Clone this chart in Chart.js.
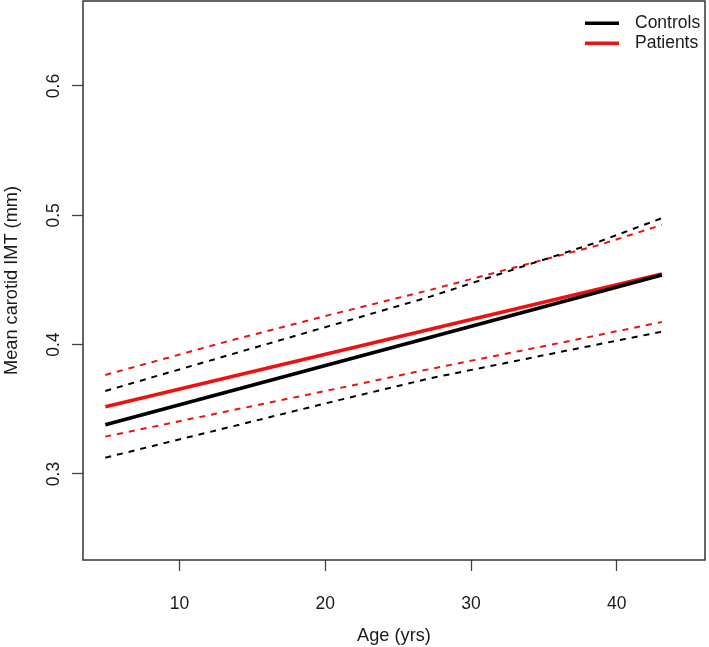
<!DOCTYPE html>
<html>
<head>
<meta charset="utf-8">
<script src="https://cdn.jsdelivr.net/npm/chart.js@4.4.0/dist/chart.umd.min.js"></script>
<style>
html,body{margin:0;padding:0;background:#fff;}
#wrap{width:709px;height:647px;position:relative;}
</style>
</head>
<body>
<div id="wrap"><canvas id="c" width="709" height="647"></canvas></div>
<script>
// ---- data ----
const fitAges = [4.9, 43.1];
const controlsFit = [0.338, 0.4538];
const patientsFit = [0.352, 0.4546];
const upperAges = [4.9, 13.4, 20.3, 27.2, 38.8, 43.1];
const controlsUpper = [0.3642, 0.392, 0.4145, 0.4371, 0.4797, 0.4978];
const patientsUpper = [0.3766, 0.4029, 0.423, 0.4423, 0.4771, 0.4926];
const lowerAges = [4.9, 21.0, 27.2, 36.8, 43.1];
const controlsLower = [0.3126, 0.3573, 0.374, 0.3959, 0.410];
const patientsLower = [0.3289, 0.3665, 0.3812, 0.4029, 0.4175];
const xTicks = [10, 20, 30, 40];
const yTicks = [0.3, 0.4, 0.5, 0.6];
const legendLabels = ['Controls', 'Patients'];
const xTitle = 'Age (yrs)';
const yTitle = 'Mean carotid IMT (mm)';

const BLACK = '#000000';
const RED = '#ee1111';
const FONT = "'Liberation Sans', Arial, Helvetica, sans-serif";
const FS = 17.5;
const FT = 18.2;
const TXT = '#1a1a1a';

function pts(xs, ys){ return xs.map((x,i)=>({x:x, y:ys[i]})); }

const datasets = [
  {label:'Controls upper', data:pts(upperAges, controlsUpper), borderColor:BLACK, borderWidth:2, borderDash:[6,6]},
  {label:'Controls lower', data:pts(lowerAges, controlsLower), borderColor:BLACK, borderWidth:2, borderDash:[6,6]},
  {label:'Patients upper', data:pts(upperAges, patientsUpper), borderColor:RED, borderWidth:2, borderDash:[6,6]},
  {label:'Patients lower', data:pts(lowerAges, patientsLower), borderColor:RED, borderWidth:2, borderDash:[6,6]},
  {label:legendLabels[0], data:pts(fitAges, controlsFit), borderColor:BLACK, borderWidth:3.6},
  {label:legendLabels[1], data:pts(fitAges, patientsFit), borderColor:RED, borderWidth:3.6}
].map(d => Object.assign({showLine:true, pointRadius:0, pointHoverRadius:0, fill:false, tension:0, borderCapStyle:'butt'}, d));

const framePlugin = {
  id:'frame',
  afterDraw(chart){
    const {ctx, chartArea:a} = chart;
    ctx.save();
    ctx.strokeStyle = '#333';
    ctx.lineWidth = 1.5;
    ctx.strokeRect(a.left, a.top, a.right - a.left, a.bottom - a.top);
    // legend (R style, no box)
    const items = [{t:legendLabels[0], c:BLACK, y:23.3}, {t:legendLabels[1], c:RED, y:43.3}];
    ctx.font = FS + 'px ' + FONT;
    ctx.textBaseline = 'middle';
    ctx.textAlign = 'left';
    items.forEach(it => {
      ctx.strokeStyle = it.c;
      ctx.lineWidth = 3.6;
      ctx.beginPath();
      ctx.moveTo(585, it.y);
      ctx.lineTo(619, it.y);
      ctx.stroke();
      ctx.fillStyle = TXT;
      ctx.fillText(it.t, 635, it.y);
    });
    ctx.restore();
  }
};

new Chart(document.getElementById('c'), {
  type:'scatter',
  data:{datasets},
  plugins:[framePlugin],
  options:{
    responsive:false,
    animation:false,
    devicePixelRatio:1,
    layout:{padding:{top:1, right:4, left:0, bottom:0}},
    plugins:{legend:{display:false}, tooltip:{enabled:false}},
    scales:{
      x:{
        type:'linear', min:3.37, max:46.06,
        afterBuildTicks(s){ s.ticks = xTicks.map(v=>({value:v})); },
        afterFit(s){ s.height = 87; s.paddingLeft = 0; s.paddingRight = 0; },
        border:{display:false},
        grid:{drawOnChartArea:false, drawTicks:true, tickLength:11, tickWidth:1.3, color:'#444'},
        ticks:{color:TXT, font:{family:FONT, size:FS}, padding:23, maxRotation:0, minRotation:0},
        title:{display:true, text:xTitle, color:TXT, font:{family:FONT, size:FT}, padding:{top:0, bottom:0}}
      },
      y:{
        type:'linear', min:0.2335, max:0.6657,
        afterBuildTicks(s){ s.ticks = yTicks.map(v=>({value:v})); },
        afterFit(s){ s.width = 83; s.paddingTop = 0; s.paddingBottom = 0; },
        border:{display:false},
        grid:{drawOnChartArea:false, drawTicks:true, tickLength:11, tickWidth:1.3, color:'#444'},
        ticks:{color:TXT, font:{family:FONT, size:FS}, padding:6, minRotation:90, maxRotation:90, crossAlign:'center',
               callback:(v)=>String(v)},
        title:{display:true, text:yTitle, color:TXT, font:{family:FONT, size:FT}, padding:{top:1, bottom:0}}
      }
    }
  }
});
</script>
</body>
</html>
